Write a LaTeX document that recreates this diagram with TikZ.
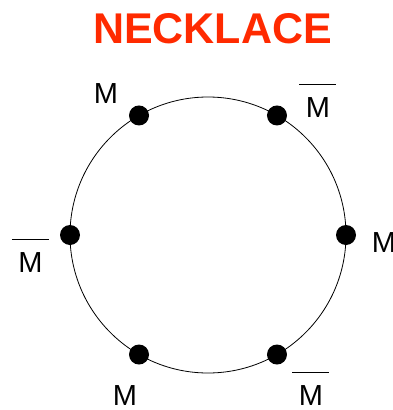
\documentclass[tikz,border=0pt]{standalone}
\usepackage{fontspec}
\setmainfont{Liberation Sans}
\usepackage{tikz}
\usetikzlibrary{positioning}
\definecolor{titleRed}{HTML}{FF2A00}

% M with a bar set well above it
\newcommand{\barM}{\rlap{\hspace{-6.5pt}\raisebox{32.5pt}{\rule{37pt}{0.9pt}}}M}

\begin{document}
\begin{tikzpicture}[x=1pt, y=1pt,
  ring/.style={circle,draw=black,line width=0.8pt,inner sep=0pt,outer sep=0pt,minimum size=276pt},
  bead/.style={circle,fill=black,inner sep=0pt,minimum size=20pt},
  lab/.style={anchor=base,inner sep=0pt,font=\fontsize{29}{29}\selectfont},
  heading/.style={anchor=base,inner sep=0pt,text=titleRed,font=\fontsize{43}{43}\selectfont\bfseries}
]
\useasboundingbox (0,0) rectangle (392,-410);
\node[heading] (title) at (212.5,-43) {NECKLACE};
\node[ring] (ring) at (208,-235) {};
\foreach \n/\ang in {1/120,2/60,3/0,4/300,5/240,6/180}
  \node[bead] (b\n) at (ring.\ang) {};
\node[lab] (l1) at (106,-103) {M};
\node[lab] (l2) at (318,-117) {\barM};
\node[lab] (l3) at (384,-252) {M};
\node[lab] (l4) at (311,-405) {\barM};
\node[lab] (l5) at (125,-405) {M};
\node[lab] (l6) at (30.5,-272) {\barM};
\end{tikzpicture}
\end{document}
